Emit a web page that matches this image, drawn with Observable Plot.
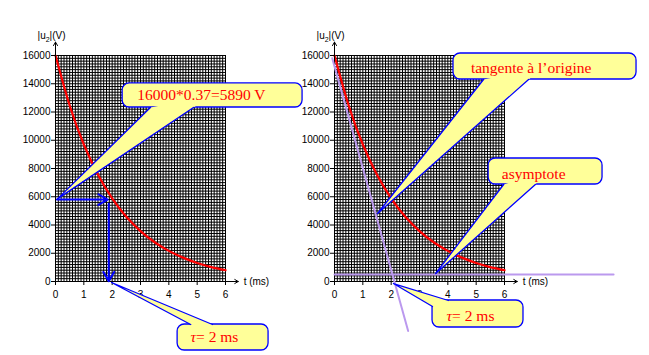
<!DOCTYPE html>
<html><head><meta charset="utf-8">
<script src="https://cdn.jsdelivr.net/npm/d3@7"></script>
<script src="https://cdn.jsdelivr.net/npm/@observablehq/plot@0.6"></script>
<style>
body{margin:0;background:#fff;}
#wrap{position:relative;width:649px;height:355px;overflow:hidden;}
#wrap svg{position:absolute;left:0;top:0;}
</style></head><body><div id="wrap"></div>
<script>
// ---- data ----
const curveT = [0, 0.5, 1, 1.5, 2, 2.5, 3, 3.5, 4, 4.5, 5, 5.5, 6];
const curveU = [16000, 12460, 9700, 7560, 5890, 4580, 3570, 2780, 2170, 1690, 1310, 1020, 800];
const xTicks = [0, 1, 2, 3, 4, 5, 6];
const yTicks = [0, 2000, 4000, 6000, 8000, 10000, 12000, 14000, 16000];
const gridT = d3.range(61).map(i => i / 10);     // minor grid, 0.1 ms
const gridU = d3.range(81).map(i => i * 200);    // minor grid, 200 V
const yLabel = "|u2|(V)";
const xLabel = "t (ms)";

// left panel annotations
const leftCallouts = [
  {id: "a", label: "16000*0.37=5890 V", t1: 2.37, t2: 8.72, u1: 12320, u2: 14020,
   aT: 3.35, aU: 12320, tipT: 0.07, tipU: 5850, bT: 4.87, bU: 12320, textT: 5.15, textU: 13170},
  {id: "b", label: "τ= 2 ms", t1: 4.31, t2: 7.52, u1: -4885, u2: -3044,
   aT: 4.77, aU: -3044, tipT: 1.98, tipU: -71, bT: 5.54, bU: -3044, textT: 5.61, textU: -3965}
];
const blueArrows = [
  {t1: 0.05, u1: 5800, t2: 1.84, u2: 5800},
  {t1: 1.88, u1: 5500, t2: 1.88, u2: 20}
];

// right panel annotations
const rightCallouts = [
  {id: "c", label: "tangente à l’origine", t1: 4.2, t2: 10.66, u1: 14302, u2: 16142,
   aT: 5.26, aU: 14302, tipT: 1.52, tipU: 4814, bT: 6.85, bU: 14302, textT: 6.94, textU: 15080},
  {id: "d", label: "asymptote", t1: 5.44, t2: 9.46, u1: 6868, u2: 8708,
   aT: 5.97, aU: 6868, tipT: 3.57, tipU: 566, bT: 7.09, bU: 6868, textT: 7.03, textU: 7576},
  {id: "e", label: "τ= 2 ms", t1: 3.46, t2: 6.67, u1: -3257, u2: -1345,
   aT: 3.46, aU: -1770, tipT: 2.08, tipU: -142, bT: 4.02, bU: -1345, textT: 4.8, textU: -2478}
];
const tangentT = [-0.08, 2.6];
const tangentU = [15800, -3500];
const asymptoteT = [0, 9.85];
const asymptoteU = [500, 500];

// ---- drawing ----
const SANS = "Liberation Sans, Arial, sans-serif";
const SERIF = "Liberation Serif, Times New Roman, serif";
const BLUE = "#0000ff";
const YELLOW = "#ffff99";
const LAVENDER = "#bb99ee";

function calloutMarks(callouts) {
  const fillPts = [], strokePts = [];
  for (const c of callouts) {
    const cT = (c.t1 + c.t2) / 2, cU = (c.u1 + c.u2) / 2;
    fillPts.push({id: c.id, t: c.aT, u: c.aU}, {id: c.id, t: c.tipT, u: c.tipU},
                 {id: c.id, t: c.bT, u: c.bU}, {id: c.id, t: cT, u: cU});
    strokePts.push({id: c.id, t: c.aT, u: c.aU}, {id: c.id, t: c.tipT, u: c.tipU},
                   {id: c.id, t: c.bT, u: c.bU});
  }
  return [
    Plot.rect(callouts, {x1: "t1", x2: "t2", y1: "u1", y2: "u2", fill: YELLOW, stroke: BLUE, strokeWidth: 1.3, rx: 7}),
    Plot.line(fillPts, {x: "t", y: "u", z: "id", fill: YELLOW, stroke: "none"}),
    Plot.line(strokePts, {x: "t", y: "u", z: "id", stroke: BLUE, strokeWidth: 1.3}),
    Plot.text(callouts, {x: "textT", y: "textU", text: "label", fill: "#ff0000",
      fontFamily: SERIF, fontSize: 15.5})
  ];
}

function panel(marginLeft, marginRight, callouts, before, after) {
  const pts = curveT.map((t, i) => ({t, u: curveU[i]}));
  return Plot.plot({
    width: 649, height: 355,
    marginLeft, marginRight, marginTop: 55, marginBottom: 74,
    x: {domain: [0, 6], axis: null, label: null},
    y: {domain: [0, 16000], axis: null, label: null},
    style: {background: "transparent", overflow: "visible", fontFamily: SANS, fontSize: "10px"},
    marks: [
      Plot.ruleX(gridT, {x: d => d, y1: 0, y2: 16000, stroke: "#000", strokeWidth: 1}),
      Plot.ruleY(gridU, {y: d => d, x1: 0, x2: 6, stroke: "#000", strokeWidth: 1}),
      Plot.line(pts, {x: "t", y: "u", stroke: "#ff0000", strokeWidth: 2.2, curve: "natural"}),
      Plot.axisY(yTicks, {tickSize: 4, tickPadding: 1, tickFormat: d => String(d), label: null, fontSize: 10, fontFamily: SANS}),
      Plot.axisX(xTicks, {tickSize: 4, tickPadding: 5, tickFormat: d => String(d), label: null, fontSize: 10, fontFamily: SANS}),
      Plot.arrow([0], {x1: 0, y1: 0, x2: 0, y2: 16950, stroke: "#000", strokeWidth: 1, headLength: 6}),
      Plot.arrow([0], {x1: 0, y1: 0, x2: 6.45, y2: 0, stroke: "#000", strokeWidth: 1, headLength: 6}),
      Plot.text([yLabel], {x: -0.14, y: 17420, text: d => d, fontSize: 10, fontFamily: SANS}),
      Plot.text([xLabel], {x: 6.64, y: 0, text: d => d, textAnchor: "start", fontSize: 10, fontFamily: SANS}),
      ...before,
      ...calloutMarks(callouts),
      ...after
    ]
  });
}

function fixTexts(svg) {
  d3.select(svg).selectAll("text").each(function () {
    const s = this.textContent;
    if (s === "τ= 2 ms") {
      const el = d3.select(this);
      el.text(null);
      el.append("tspan").attr("font-style", "italic").text("τ");
      el.append("tspan").text("= 2 ms");
    } else if (s === yLabel) {
      const el = d3.select(this);
      el.text(null);
      el.append("tspan").text("|u");
      el.append("tspan").attr("font-size", 7).attr("dy", 3).text("2");
      el.append("tspan").attr("dy", -3).text("|(V)");
    }
  });
  return svg;
}

const left = panel(55, 424, leftCallouts, [], [
  Plot.arrow(blueArrows, {x1: "t1", y1: "u1", x2: "t2", y2: "u2", stroke: BLUE, strokeWidth: 2, headLength: 8})
]);
const right = panel(334, 145, rightCallouts, [
  Plot.line(tangentT.map((t, i) => ({t, u: tangentU[i]})), {x: "t", y: "u", stroke: LAVENDER, strokeWidth: 2}),
  Plot.line(asymptoteT.map((t, i) => ({t, u: asymptoteU[i]})), {x: "t", y: "u", stroke: LAVENDER, strokeWidth: 2})
], []);

const wrap = document.getElementById("wrap");
wrap.appendChild(fixTexts(left));
wrap.appendChild(fixTexts(right));
</script>
</body></html>
